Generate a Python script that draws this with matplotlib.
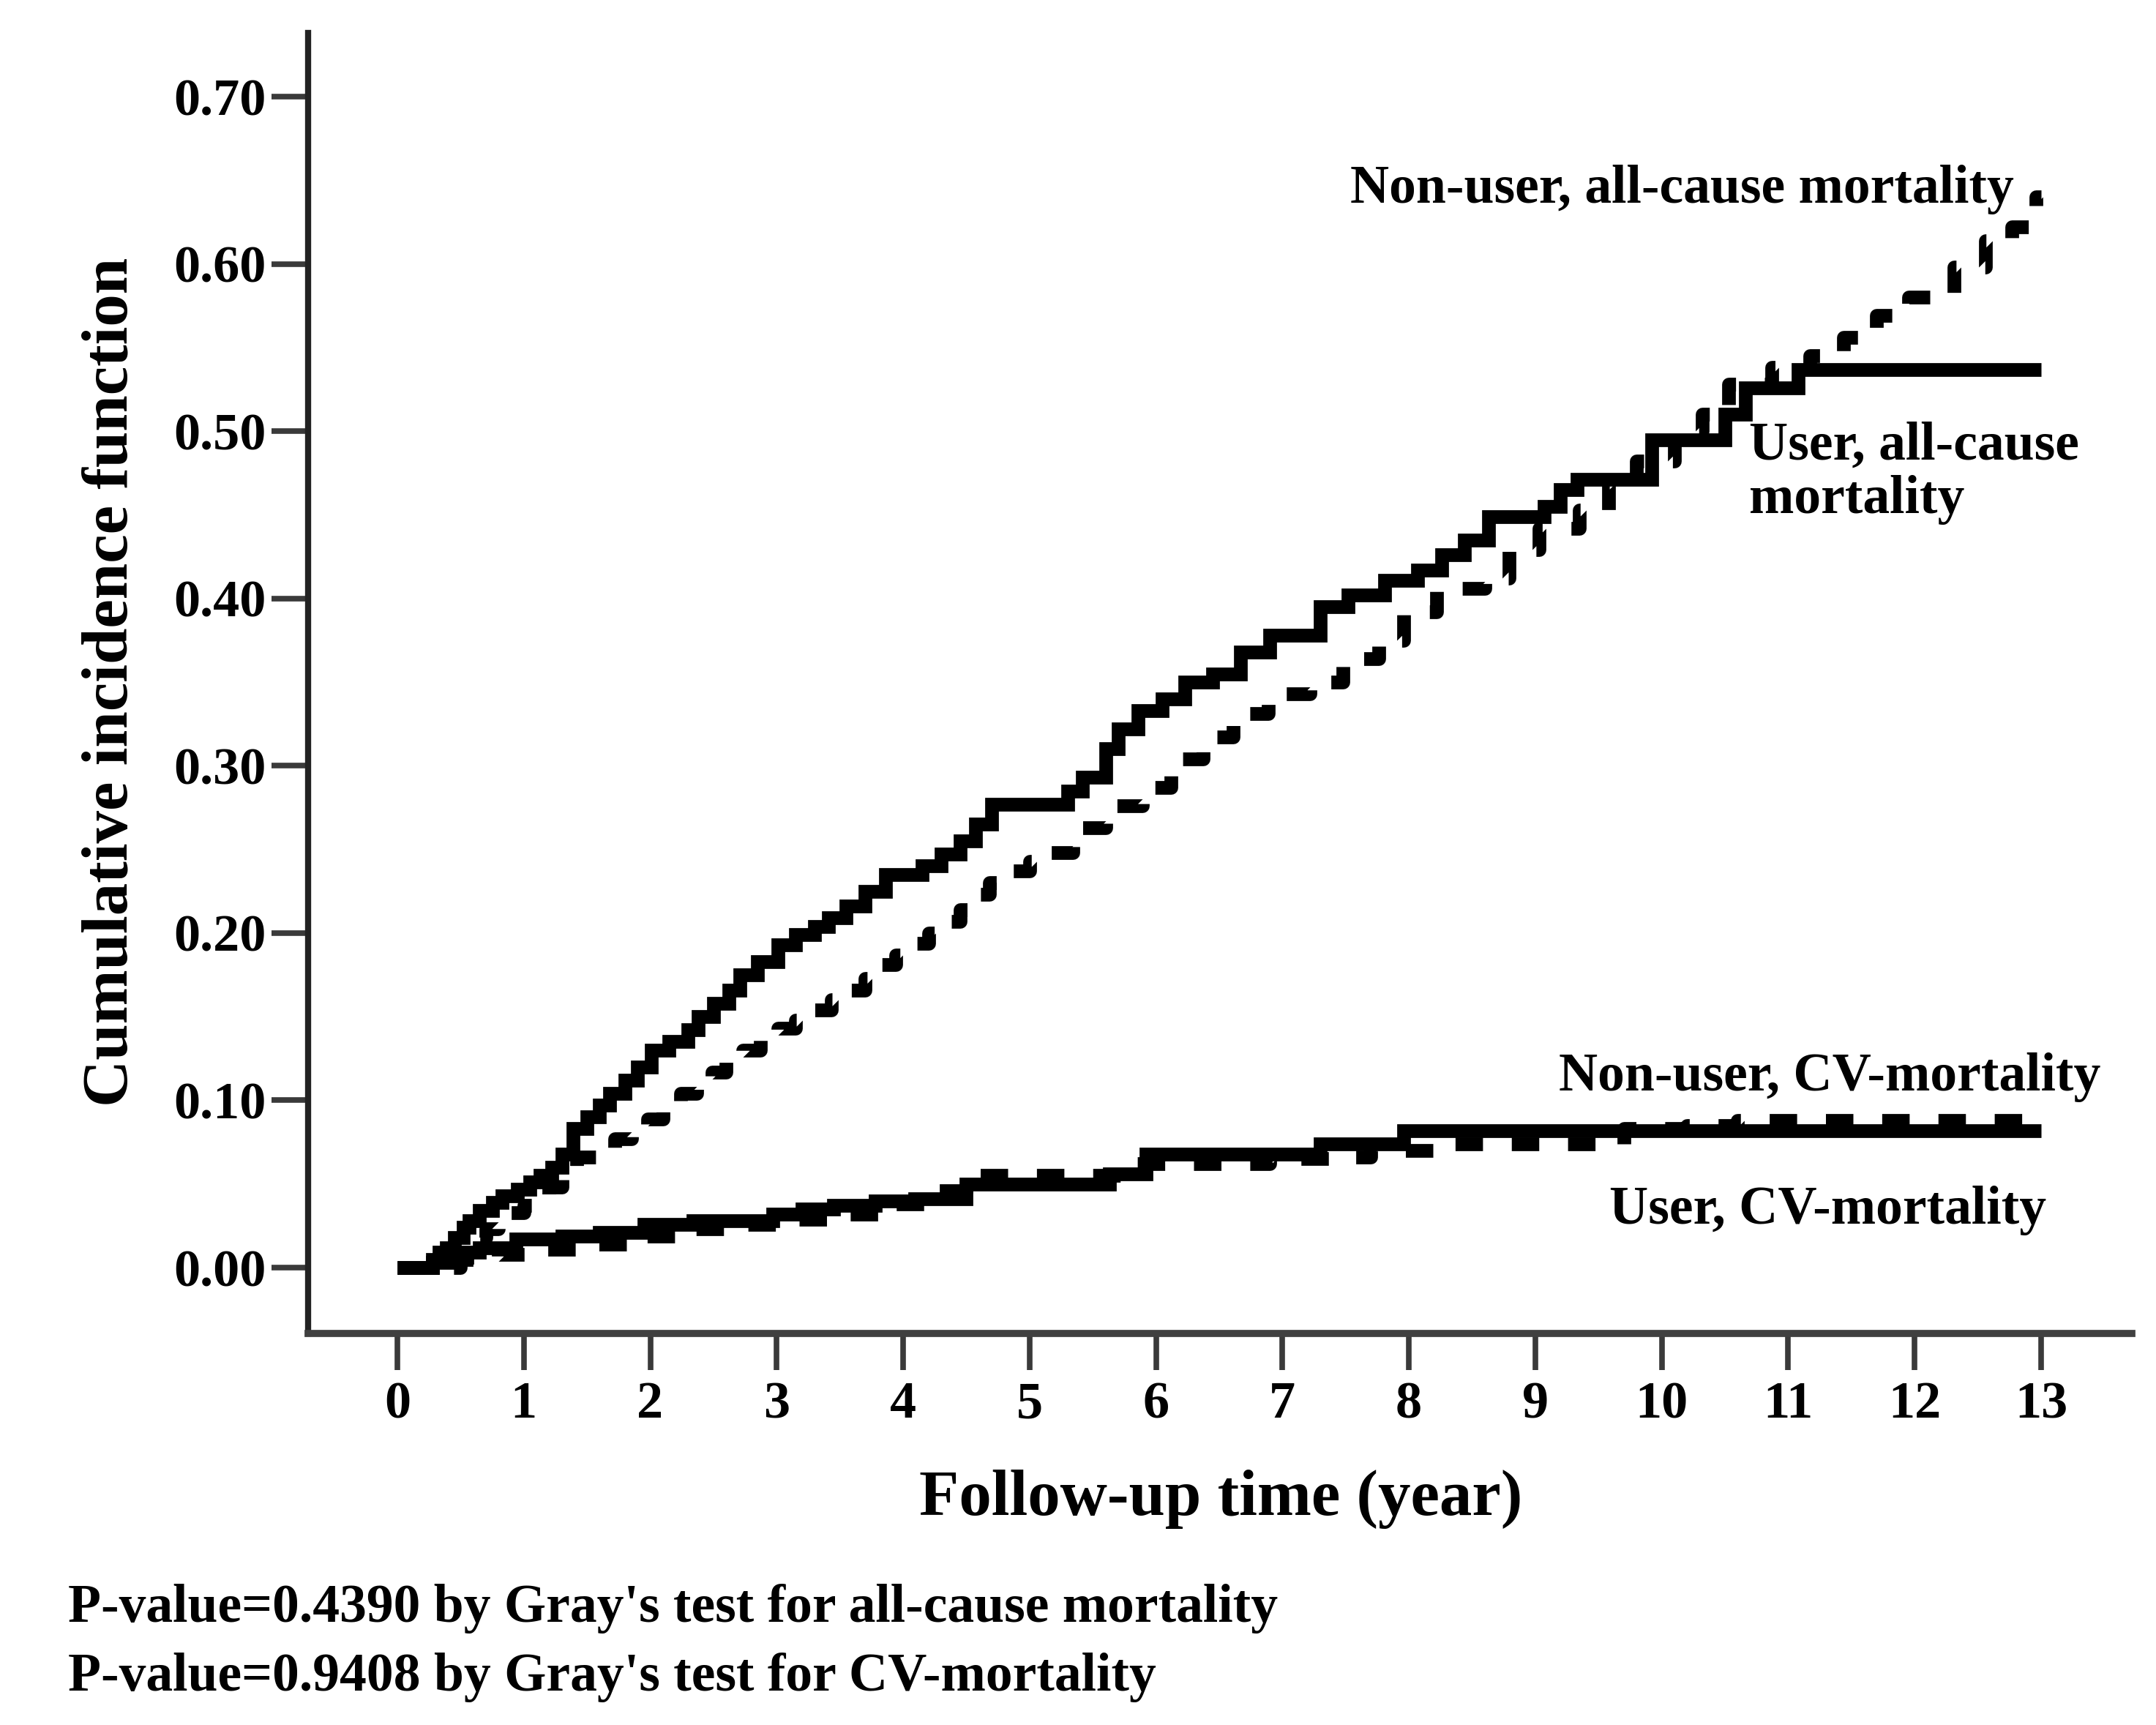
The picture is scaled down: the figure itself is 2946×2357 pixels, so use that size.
import matplotlib
matplotlib.use("Agg")
import matplotlib.pyplot as plt

# ---------------- data ----------------
# User, all-cause mortality (solid)
user_all_t = [0, 0.28, 0.33, 0.39, 0.45, 0.52, 0.57, 0.65, 0.75, 0.83, 0.95, 1.05, 1.13,
              1.22, 1.30, 1.39, 1.50, 1.60, 1.68, 1.80, 1.90, 2.01, 2.15, 2.30, 2.38, 2.50,
              2.62, 2.71, 2.85, 3.01, 3.15, 3.30, 3.41, 3.55, 3.70, 3.86, 4.15, 4.30, 4.45,
              4.57, 4.70, 5.30, 5.42, 5.60, 5.70, 5.86, 6.05, 6.23, 6.45, 6.67, 6.90, 7.30,
              7.52, 7.81, 8.07, 8.26, 8.44, 8.63, 9.07, 9.20, 9.33, 9.92, 10.50, 10.66,
              11.08, 13.0]
user_all_v = [0, 0.005, 0.009, 0.012, 0.018, 0.024, 0.028, 0.034, 0.039, 0.043, 0.047, 0.051,
              0.055, 0.060, 0.068, 0.083, 0.090, 0.097, 0.104, 0.112, 0.120, 0.130, 0.135,
              0.142, 0.150, 0.158, 0.166, 0.175, 0.183, 0.193, 0.199, 0.204, 0.209, 0.216,
              0.225, 0.235, 0.240, 0.247, 0.255, 0.265, 0.277, 0.285, 0.293, 0.310, 0.322,
              0.333, 0.340, 0.350, 0.355, 0.368, 0.378, 0.395, 0.402, 0.411, 0.417, 0.426,
              0.435, 0.449, 0.455, 0.465, 0.471, 0.495, 0.510, 0.526, 0.537, 0.537]

# Non-user, all-cause mortality (dotted)
non_all_t = [0, 0.30, 0.40, 0.50, 0.60, 0.70, 0.80, 0.90, 1.00, 1.10, 1.20, 1.30, 1.42, 1.57,
             1.72, 1.85, 1.98, 2.10, 2.24, 2.37, 2.49, 2.60, 2.73, 2.87, 3.01, 3.15, 3.30,
             3.43, 3.56, 3.70, 3.82, 3.94, 4.06, 4.20, 4.34, 4.45, 4.56, 4.68, 4.80, 5.00,
             5.12, 5.34, 5.60, 5.89, 6.12, 6.37, 6.61, 6.89, 7.22, 7.48, 7.76, 7.96, 8.22,
             8.60, 8.79, 9.03, 9.35, 9.58, 9.80, 10.10, 10.32, 10.53, 10.87, 11.17, 11.44,
             11.70, 11.95, 12.31, 12.56, 12.77, 12.96, 13.0]
non_all_v = [0, 0.003, 0.008, 0.013, 0.018, 0.023, 0.028, 0.033, 0.037, 0.042, 0.048, 0.056,
             0.066, 0.071, 0.077, 0.083, 0.089, 0.096, 0.104, 0.110, 0.117, 0.123, 0.130,
             0.136, 0.143, 0.148, 0.154, 0.160, 0.166, 0.173, 0.181, 0.187, 0.194, 0.200,
             0.207, 0.214, 0.223, 0.230, 0.237, 0.243, 0.248, 0.263, 0.276, 0.287, 0.304,
             0.317, 0.331, 0.343, 0.350, 0.364, 0.375, 0.392, 0.406, 0.412, 0.429, 0.442,
             0.453, 0.469, 0.482, 0.500, 0.510, 0.528, 0.538, 0.545, 0.556, 0.569, 0.580,
             0.598, 0.614, 0.622, 0.640, 0.640]

# User, CV-mortality (solid)
user_cv_t = [0, 0.28, 0.40, 0.55, 0.65, 0.94, 1.30, 1.60, 1.95, 2.34, 2.97, 3.20, 3.45, 3.78,
             4.09, 4.50, 5.63, 5.92, 7.30, 7.96, 13.0]
user_cv_v = [0, 0.003, 0.006, 0.009, 0.012, 0.017, 0.019, 0.021, 0.026, 0.028, 0.032, 0.035,
             0.037, 0.040, 0.041, 0.050, 0.056, 0.068, 0.074, 0.082, 0.082]

# Non-user, CV-mortality (dotted)
non_cv_t = [0, 0.50, 0.80, 1.10, 1.50, 1.90, 2.30, 2.70, 3.10, 3.50, 3.90, 4.20, 4.50, 4.60,
            5.83, 6.90, 7.40, 7.70, 8.20, 9.70, 10.20, 10.60, 13.0]
non_cv_v = [0, 0.005, 0.008, 0.011, 0.014, 0.019, 0.023, 0.026, 0.029, 0.032, 0.038, 0.046,
            0.052, 0.055, 0.062, 0.065, 0.066, 0.070, 0.074, 0.083, 0.085, 0.088, 0.088]

x_ticks = list(range(0, 14))
x_tick_labels = [str(v) for v in x_ticks]
y_ticks = [0.0, 0.1, 0.2, 0.3, 0.4, 0.5, 0.6, 0.7]
y_tick_labels = ["0.00", "0.10", "0.20", "0.30", "0.40", "0.50", "0.60", "0.70"]

# ---------------- figure ----------------
plt.rcParams["font.family"] = ["Liberation Serif", "DejaVu Serif"]
plt.rcParams["font.weight"] = "bold"

W, H = 2946, 2357
fig = plt.figure(figsize=(W / 100, H / 100), dpi=100)
fig.patch.set_facecolor("white")

ax_l, ax_r, ax_t, ax_b = 421, 2913, 45, 1822
ax = fig.add_axes([ax_l / W, 1 - ax_b / H, (ax_r - ax_l) / W, (ax_b - ax_t) / H])

x0_px, x13_px = 543, 2789
y0_px, y70_px = 1732, 132
sx = (x13_px - x0_px) / 13.0
sy = (y0_px - y70_px) / 0.70
ax.set_xlim((ax_l - x0_px) / sx, (ax_r - x0_px) / sx)
ax.set_ylim(-(ax_b - y0_px) / sy, (y0_px - ax_t) / sy)

LW = 13.5
dots = (0, (2.0, 2.1))
ax.plot(user_all_t, user_all_v, drawstyle="steps-post", color="black", lw=LW,
        solid_capstyle="butt", solid_joinstyle="miter")
ax.plot(non_all_t, non_all_v, drawstyle="steps-post", color="black", lw=LW,
        linestyle=dots, dash_capstyle="butt")
ax.plot(user_cv_t, user_cv_v, drawstyle="steps-post", color="black", lw=LW,
        solid_capstyle="butt", solid_joinstyle="miter")
ax.plot(non_cv_t, non_cv_v, drawstyle="steps-post", color="black", lw=LW,
        linestyle=dots, dash_capstyle="butt")

for s in ["top", "right"]:
    ax.spines[s].set_visible(False)
ax.spines["left"].set_linewidth(6)
ax.spines["left"].set_color("#222222")
ax.spines["bottom"].set_linewidth(7)
ax.spines["bottom"].set_color("#404040")

ax.set_xticks(x_ticks)
ax.set_xticklabels(x_tick_labels)
ax.set_yticks(y_ticks)
ax.set_yticklabels(y_tick_labels)
ax.tick_params(axis="both", direction="out", length=36, width=5.5, color="#3a3a3a",
               labelsize=52)
ax.tick_params(axis="x", pad=11)
ax.tick_params(axis="y", pad=5)
for lab in ax.get_xticklabels() + ax.get_yticklabels():
    lab.set_fontweight("bold")

def ftext(x, y, s, size, **kw):
    fig.text(x / W, 1 - y / H, s, fontsize=size, fontweight="bold", color="black", **kw)

# axis titles
ftext(152, 932, "Cumulative incidence function", 64, rotation=90, ha="center", va="center")
ftext(1668, 2070, "Follow-up time (year)", 64, ha="center", va="baseline")

# curve annotations
ftext(1845, 277, "Non-user, all-cause mortality", 53, ha="left", va="baseline")
ftext(2390, 628, "User, all-cause", 53, ha="left", va="baseline")
ftext(2390, 701, "mortality", 53, ha="left", va="baseline")
ftext(2130, 1490, "Non-user, CV-mortality", 53, ha="left", va="baseline")
ftext(2199, 1672, "User, CV-mortality", 53, ha="left", va="baseline")

# footnotes
ftext(93, 2216, "P-value=0.4390 by Gray's test for all-cause mortality", 53, ha="left", va="baseline")
ftext(93, 2310, "P-value=0.9408 by Gray's test for CV-mortality", 53, ha="left", va="baseline")

fig.savefig("out.png", dpi=100, facecolor="white")
